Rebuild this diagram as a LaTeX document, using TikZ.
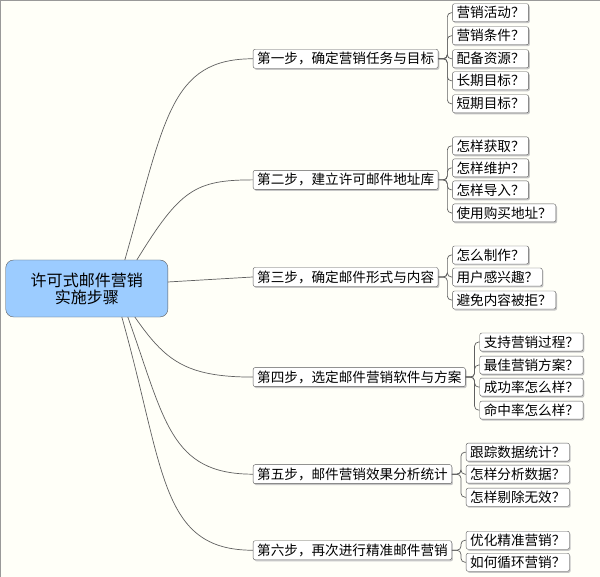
\documentclass[tikz,border=0pt]{standalone}
\usepackage{fontspec}
\setmainfont{Noto Sans CJK SC}
\usetikzlibrary{shadows,calc}
\tikzset{
  x=1pt,y=-1pt,
  stepbox/.style={draw=gray!70!black,fill=white,rounded corners=2pt,anchor=west,inner xsep=4pt,inner ysep=2pt,minimum height=19pt,font=\fontsize{13.6}{15}\selectfont,
    drop shadow={shadow xshift=1.2pt,shadow yshift=-1.5pt,fill=gray!45,opacity=1}},
  leaf/.style={stepbox,font=\fontsize{13.6}{15}\selectfont,inner xsep=4pt,minimum height=18pt},
  link/.style={draw=gray!75!black,line width=0.7pt},
  blink/.style={link,rounded corners=4pt}
}
\begin{document}
\begin{tikzpicture}
\path[fill={rgb,255:red,255;green,255;blue,248},draw=gray!80] (0.5,0.5) rectangle (599.5,576.5);
\node[draw=gray!70!black,fill={rgb,255:red,156;green,204;blue,255},rounded corners=8pt,minimum width=162pt,minimum height=57pt,align=center,font=\fontsize{16}{17}\selectfont] (root) at (87,288.5) {许可式邮件营销\\实施步骤};
\node[stepbox] (s1) at (253,59) {第一步，确定营销任务与目标};
\node[stepbox] (s2) at (253,180) {第二步，建立许可邮件地址库};
\node[stepbox] (s3) at (253,277) {第三步，确定邮件形式与内容};
\node[stepbox] (s4) at (253,377) {第四步，选定邮件营销软件与方案};
\node[stepbox] (s5) at (253,474) {第五步，邮件营销效果分析统计};
\node[stepbox] (s6) at (253,550) {第六步，再次进行精准邮件营销};
\coordinate (r1) at (125,260);
\coordinate (r2) at (137,260);
\coordinate (r3) at (168,282);
\coordinate (r4) at (135,317);
\coordinate (r5) at (128,317);
\coordinate (r6) at (122,317);
\draw[link] (r1) .. controls (165,120) and (170,59) .. (s1.west);
\draw[link] (r2) .. controls (180,190) and (195,180) .. (s2.west);
\draw[link] (r3) -- (s3.west);
\draw[link] (r4) .. controls (165,360) and (185,377) .. (s4.west);
\draw[link] (r5) .. controls (165,420) and (170,474) .. (s5.west);
\draw[link] (r6) .. controls (165,470) and (160,550) .. (s6.west);
\foreach \s/\list in {s1/{13/营销活动？,36/营销条件？,59/配备资源？,81/长期目标？,104/短期目标？},
  s2/{146/怎样获取？,168/怎样维护？,190/怎样导入？,213/使用购买地址？},
  s3/{255/怎么制作？,277/用户感兴趣？,300/避免内容被拒？},
  s4/{342/支持营销过程？,365/最佳营销方案？,387/成功率怎么样？,410/命中率怎么样？},
  s5/{452/跟踪数据统计？,474/怎样分析数据？,497/怎样剔除无效？},
  s6/{540/优化精准营销？,562/如何循环营销？}}{
  \path (\s.east) ++(14,0) coordinate (b-\s);
  \foreach \y/\t [count=\i] in \list {
    \node[leaf] (\s-\i) at (b-\s |- 0,\y) {\t\hspace{2pt}};
    \draw[blink] (\s.east) -- ++(9,0) |- (\s-\i.west);
  }
}
\end{tikzpicture}
\end{document}
